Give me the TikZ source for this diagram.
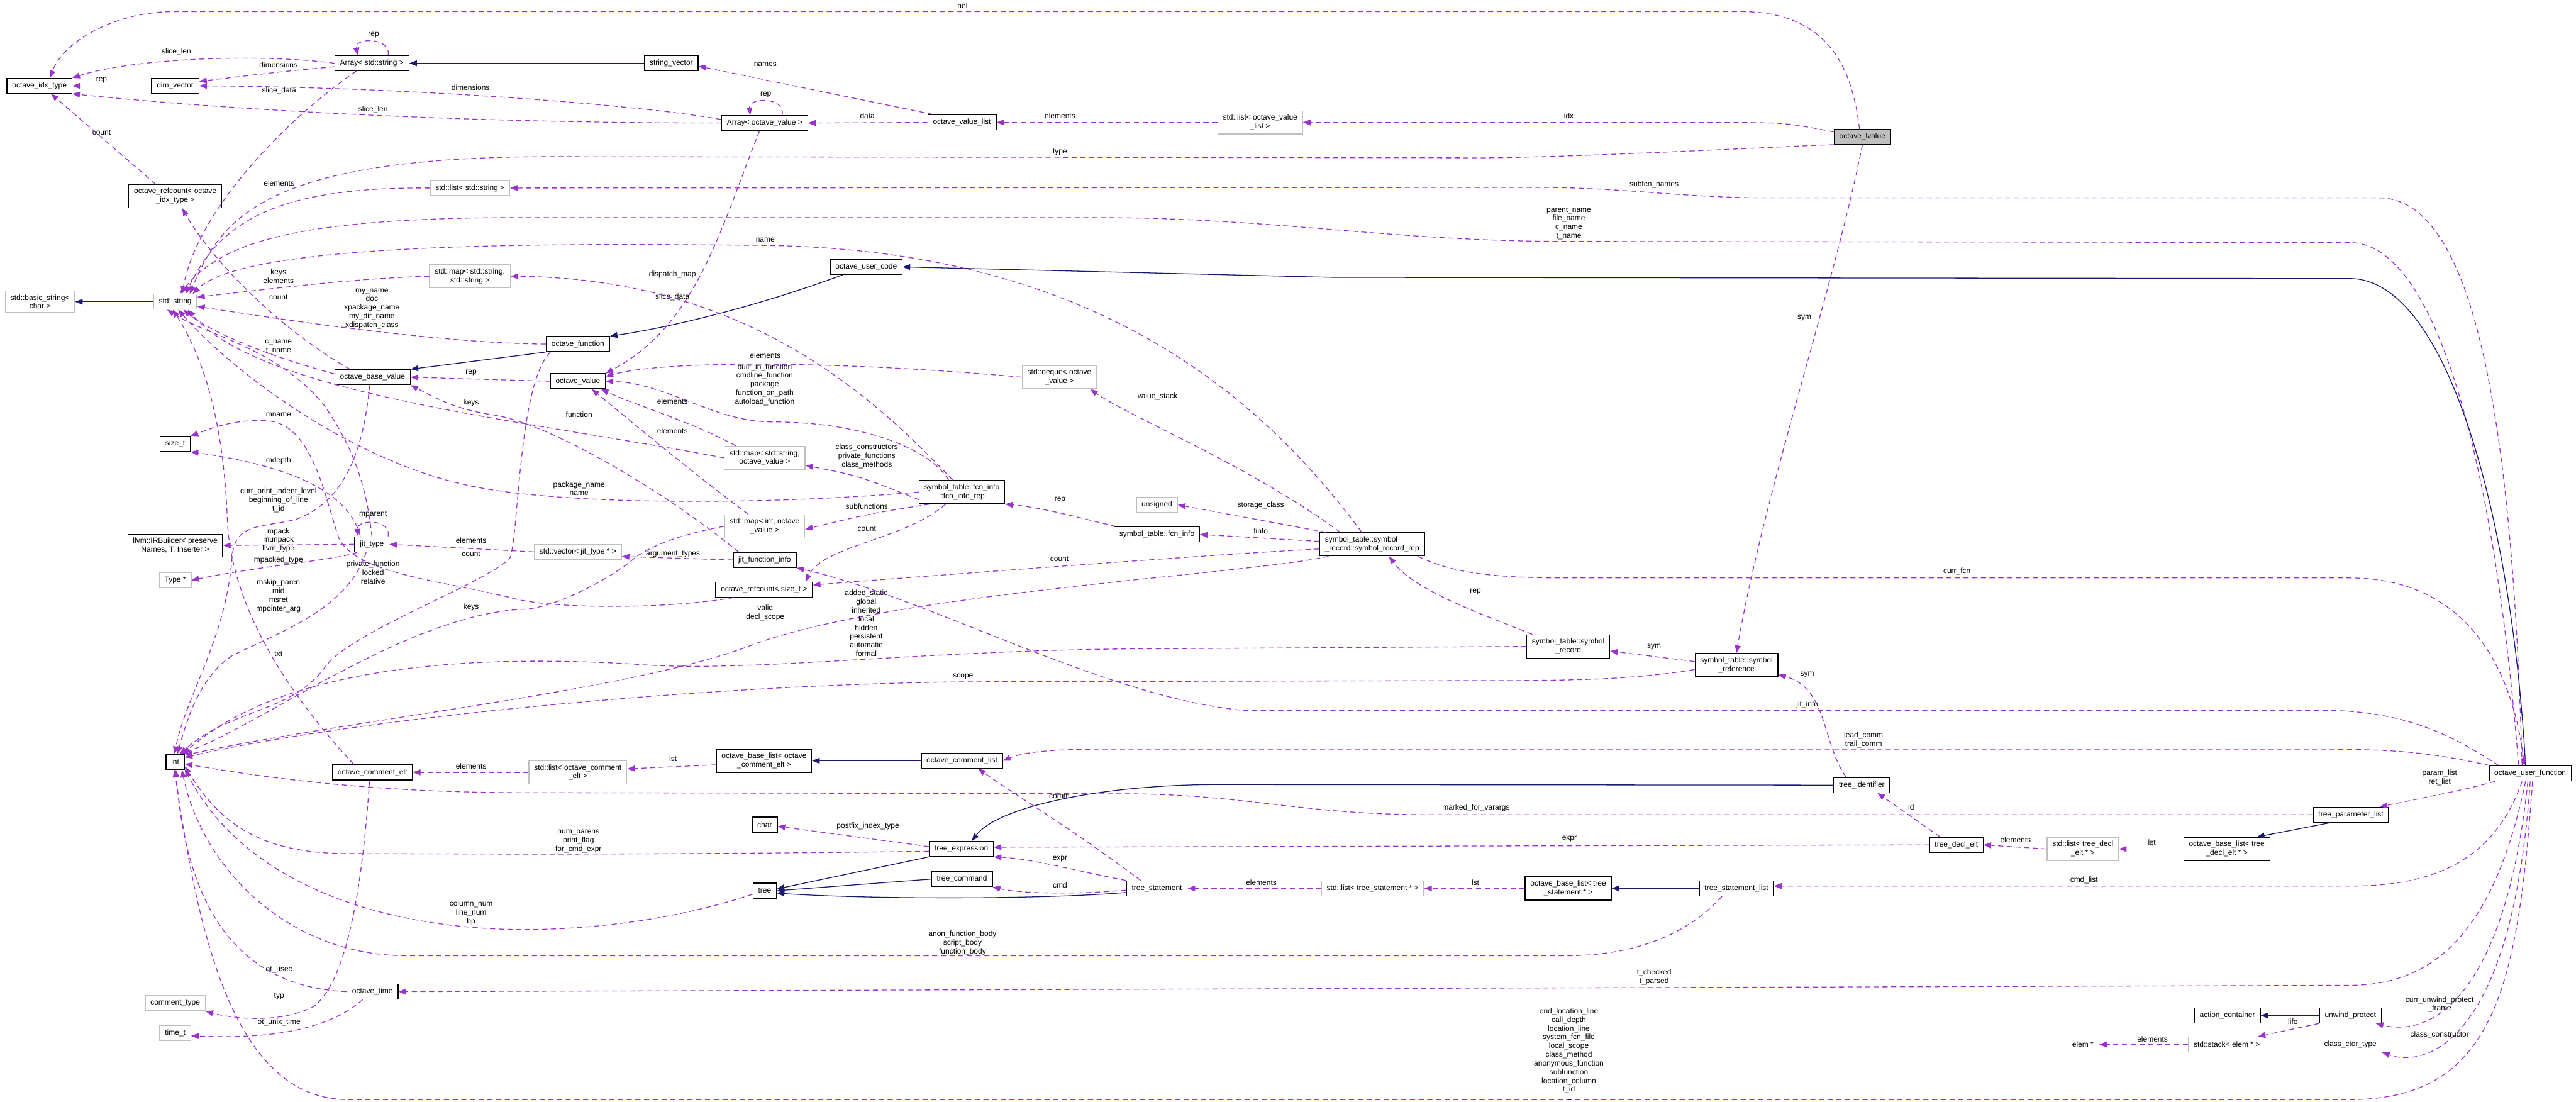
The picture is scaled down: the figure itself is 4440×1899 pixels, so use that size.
\documentclass[tikz,border=0pt]{standalone}
\usepackage{fontspec}
\setmainfont{Liberation Sans}
\usetikzlibrary{arrows.meta}

\definecolor{usecol}{HTML}{9A32CD}
\definecolor{inhcol}{HTML}{191970}
\definecolor{extcol}{HTML}{BFBFBF}

\begin{document}
\begin{tikzpicture}[
  x=1pt, y=-1pt,
  font=\fontsize{13}{15}\selectfont,
  cls/.style={rectangle, draw=black, line width=1.4pt, fill=white,
              align=center, inner xsep=9pt, inner ysep=6.5pt, minimum height=26pt},
  ext/.style={cls, draw=extcol},
  root/.style={cls, fill=extcol},
  mem/.style={draw=usecol, line width=1.4pt, dash pattern=on 9pt off 6pt,
              -{Triangle[length=13pt,width=10pt]}},
  inh/.style={draw=inhcol, line width=1.4pt, -{Triangle[length=13pt,width=10pt]}},
  lbl/.style={align=center, inner sep=0pt},
]
\useasboundingbox (0,0) rectangle (4440,1899);
% --- classes ---
\node[cls]  (idx)     at (68,148)    {octave\_idx\_type};
\node[ext]  (bstr)    at (69,520)    {std::basic\_string<\\char >};
\node[cls]  (dimv)    at (302,148)   {dim\_vector};
\node[cls]  (rcidx)   at (302,338)   {octave\_refcount< octave\\\_idx\_type >};
\node[ext]  (str)     at (302,520)   {std::string};
\node[cls]  (sizet)   at (302,765)   {size\_t};
\node[cls]  (irb)     at (302,940)   {llvm::IRBuilder< preserve\\Names, T, Inserter >};
\node[ext]  (typeptr) at (302,1000)  {Type *};
\node[cls]  (intt)    at (302,1313)  {int};
\node[ext]  (ctype)   at (302,1729)  {comment\_type};
\node[ext]  (timet)   at (302,1780)  {time\_t};
\node[cls]  (arrstr)  at (641,109)   {Array< std::string >};
\node[cls]  (bval)    at (642,650)   {octave\_base\_value};
\node[cls]  (jtype)   at (641,938)   {jit\_type};
\node[cls]  (celt)    at (642,1331)  {octave\_comment\_elt};
\node[cls]  (otime)   at (642,1709)  {octave\_time};
\node[ext]  (strlist) at (810,324)   {std::list< std::string >};
\node[ext]  (strmap)  at (810,476)   {std::map< std::string,\\ std::string >};
\node[cls]  (func)    at (996,593)   {octave\_function};
\node[cls]  (oval)    at (996,657)   {octave\_value};
\node[ext]  (jvec)    at (996,951)   {std::vector< jit\_type * >};
\node[ext]  (cstdl)   at (996,1331)  {std::list< octave\_comment\\\_elt >};
\node[cls]  (strvec)  at (1157,109)  {string\_vector};
\node[cls]  (arrov)   at (1318,212)  {Array< octave\_value >};
\node[ext]  (ovmap)   at (1318,789)  {std::map< std::string,\\ octave\_value >};
\node[ext]  (intmap)  at (1318,907)  {std::map< int, octave\\\_value >};
\node[cls]  (jfi)     at (1318,965)  {jit\_function\_info};
\node[cls]  (rcsz)    at (1317,1016) {octave\_refcount< size\_t >};
\node[cls]  (cbl)     at (1317,1311) {octave\_base\_list< octave\\\_comment\_elt >};
\node[cls]  (chr)     at (1318,1421) {char};
\node[cls]  (treen)   at (1318,1535) {tree};
\node[cls]  (ucode)   at (1493,460)  {octave\_user\_code};
\node[cls]  (ovlist)  at (1658,211)  {octave\_value\_list};
\node[cls]  (fir)     at (1658,848)  {symbol\_table::fcn\_info\\::fcn\_info\_rep};
\node[cls]  (clist)   at (1658,1311) {octave\_comment\_list};
\node[cls]  (texpr)   at (1657,1463) {tree\_expression};
\node[cls]  (tcmd)    at (1658,1515) {tree\_command};
\node[ext]  (deque)   at (1826,650)  {std::deque< octave\\\_value >};
\node[ext]  (unsig)   at (1994,870)  {unsigned};
\node[cls]  (fi)      at (1994,921)  {symbol\_table::fcn\_info};
\node[cls]  (tstmt)   at (1994,1531) {tree\_statement};
\node[ext]  (ovllist) at (2172,211)  {std::list< octave\_value\\\_list >};
\node[cls, align=left] (srr) at (2365,938) {symbol\_table::symbol\\\_record::symbol\_record\_rep};
\node[ext]  (stlist)  at (2366,1531) {std::list< tree\_statement * >};
\node[cls]  (srec)    at (2703,1114) {symbol\_table::symbol\\\_record};
\node[cls]  (sbl)     at (2703,1531) {octave\_base\_list< tree\\\_statement * >};
\node[cls]  (sref)    at (2993,1146) {symbol\_table::symbol\\\_reference};
\node[cls]  (tsl)     at (2993,1531) {tree\_statement\_list};
\node[root] (lval)    at (3210,236)  {octave\_lvalue};
\node[cls]  (tid)     at (3209,1353) {tree\_identifier};
\node[cls]  (tde)     at (3372,1456) {tree\_decl\_elt};
\node[ext]  (tdlist)  at (3590,1463) {std::list< tree\_decl\\\_elt * >};
\node[ext]  (elemp)   at (3590,1800) {elem *};
\node[cls]  (dbl)     at (3838,1463) {octave\_base\_list< tree\\\_decl\_elt * >};
\node[cls]  (ac)      at (3839,1750) {action\_container};
\node[ext]  (stk)     at (3838,1800) {std::stack< elem * >};
\node[cls]  (tpl)     at (4052,1404) {tree\_parameter\_list};
\node[cls]  (uwp)     at (4051,1750) {unwind\_protect};
\node[ext]  (cct)     at (4051,1800) {class\_ctor\_type};
\node[cls]  (ouf)     at (4361,1333) {octave\_user\_function};
% --- Array / index types ---
\draw[mem] (arrstr.west) .. controls (450,92) and (230,100) .. (idx.north east)
  node[lbl, at={(304,89)}] {slice\_len};
\draw[mem] ([yshift=-6pt]arrstr.west) .. controls (480,124) .. ([yshift=-6pt]dimv.north east)
  node[lbl, at={(480,112)}] {dimensions};
\draw[mem] ([xshift=28pt]arrstr.north) .. controls (675,64) and (610,64) .. ([xshift=-24pt]arrstr.north)
  node[lbl, at={(644,60)}] {rep};
\draw[mem] ([xshift=-27pt]arrstr.south) .. controls (500,200) and (340,360) .. ([xshift=12pt]str.north)
  node[lbl, at={(481,156)}] {slice\_data};
\draw[mem] (dimv.west) -- (idx.east) node[lbl, at={(175,138)}] {rep};
\draw[mem] ([yshift=6pt]arrov.west) .. controls (1100,180) and (700,150) .. (dimv.east)
  node[lbl, at={(811,151)}] {dimensions};
\draw[mem] (arrov.west) .. controls (800,212) and (400,190) .. (idx.south east)
  node[lbl, at={(643,189)}] {slice\_len};
\draw[mem] ([xshift=-34pt]rcidx.north) -- ([xshift=20pt]idx.south)
  node[lbl, at={(175,228)}] {count};
\draw[inh] (strvec.west) -- (arrstr.east);
\draw[mem] ([xshift=-5pt]lval.north) .. controls (3190,90) and (3130,20) .. (3000,20) -- (300,20)
  .. controls (200,20) and (110,70) .. ([xshift=18pt]idx.north)
  node[lbl, at={(1659,10)}] {nel};
\draw[mem] ([xshift=30pt]arrov.north) .. controls (1355,167) and (1290,167) .. ([xshift=-25pt]arrov.north)
  node[lbl, at={(1320,163)}] {rep};
\draw[mem] ([xshift=-9pt]arrov.south) .. controls (1240,400) and (1200,560) .. (oval.north east)
  node[lbl, at={(1159,512)}] {slice\_data};
\draw[mem] (ovlist.west) -- (arrov.east) node[lbl, at={(1495,200)}] {data};
\draw[mem] ([xshift=10pt]ovlist.north west) -- ([yshift=-5pt]strvec.east)
  node[lbl, at={(1319,111)}] {names};
\draw[mem] (ovllist.west) -- (ovlist.east) node[lbl, at={(1827,200)}] {elements};
\draw[mem] (lval.170) .. controls (3080,212) .. (3000,211) -- (ovllist.east)
  node[lbl, at={(2704,200)}] {idx};
% --- std::string and friends ---
\draw[mem] (lval.195) .. controls (3080,252) and (2700,272) .. (2550,272) -- (950,270)
  .. controls (450,270) and (380,380) .. ([xshift=25pt]str.north)
  node[lbl, at={(1827,262)}] {type};
\draw[mem] (strlist.west) .. controls (480,322) and (380,380) .. ([xshift=18pt]str.north)
  node[lbl, at={(481,316)}] {elements};
\draw[mem] ([xshift=-14pt]ouf.north) .. controls (4330,700) and (4260,341) .. (4100,341) -- (3050,341)
  .. controls (2900,341) and (2800,323) .. (2650,323) -- (strlist.east)
  node[lbl, at={(2851,318)}] {subfcn\_names};
\draw[mem] ([xshift=-20pt]ouf.north) .. controls (4300,800) and (4200,418) .. (4050,418) -- (2700,416)
  .. controls (2400,416) and (2200,376) .. (1900,375) -- (900,375)
  .. controls (500,375) and (380,420) .. ([xshift=8pt]str.north)
  node[lbl, at={(2704,385)}] {parent\_name\\file\_name\\c\_name\\t\_name};
\draw[inh] ([xshift=-8pt]ouf.north) .. controls (4330,900) and (4220,480) .. (4050,480) -- (2300,478)
  -- (ucode.east);
\draw[inh] ([xshift=22pt]ucode.south west) .. controls (1300,530) and (1150,565) .. (func.north east);
\draw[inh] (func.south west) -- (bval.north east);
\draw[mem] (lval.south) .. controls (3160,500) and (3040,850) .. (sref.north)
  node[lbl, at={(3110,548)}] {sym};
\draw[inh] (str.west) -- (bstr.east);
\draw[mem] (func.west) .. controls (750,592) and (450,545) .. ([yshift=-8pt]str.east)
  node[lbl, at={(641,532)}] {my\_name\\doc\\xpackage\_name\\my\_dir\_name\\xdispatch\_class};
\draw[mem] (strmap.west) .. controls (600,480) and (450,500) .. ([yshift=8pt]str.east)
  node[lbl, at={(480,476)}] {keys\\elements};
\draw[mem] (bval.175) .. controls (450,610) and (360,570) .. ([xshift=14pt]str.south)
  node[lbl, at={(480,598)}] {c\_name\\t\_name};
\draw[mem] ([xshift=-39pt]bval.north) .. controls (470,560) and (360,440) .. ([xshift=12pt]rcidx.south)
  node[lbl, at={(480,512)}] {count};
\draw[mem] (oval.west) -- (bval.east) node[lbl, at={(812,642)}] {rep};
\draw[mem] (ovmap.west) .. controls (900,723) and (450,680) .. ([xshift=22pt]str.south)
  node[lbl, at={(812,694)}] {keys};
% --- octave_value users ---
\draw[mem] (deque.west) .. controls (1450,622) and (1150,620) .. (oval.10)
  node[lbl, at={(1319,613)}] {elements};
\draw[mem] ([xshift=-23pt]fir.north) .. controls (1600,770) and (1480,727) .. (1330,727)
  .. controls (1230,727) and (1150,660) .. (oval.east)
  node[lbl, at={(1318,663)}] {built\_in\_function\\cmdline\_function\\package\\function\_on\_path\\autoload\_function};
\draw[mem] ([xshift=-50pt]ovmap.north) .. controls (1200,730) and (1100,700) .. ([xshift=-8pt]oval.south east)
  node[lbl, at={(1159,692)}] {elements};
\draw[mem] ([xshift=-28pt]intmap.north) .. controls (1200,820) and (1080,720) .. ([xshift=24pt]oval.south)
  node[lbl, at={(1159,743)}] {elements};
\draw[mem] ([yshift=-13pt]fir.west) .. controls (1480,820) .. ([yshift=-13pt]ovmap.east)
  node[lbl, at={(1494,786)}] {class\_constructors\\private\_functions\\class\_methods};
\draw[mem] (fir.west) .. controls (1300,872) and (950,870) .. (800,835)
  .. controls (600,790) and (400,640) .. ([xshift=5pt]str.south)
  node[lbl, at={(998,842)}] {package\_name\\name};
\draw[mem] ([xshift=19pt]fir.south west) .. controls (1500,885) .. ([yshift=-5pt]intmap.east)
  node[lbl, at={(1494,873)}] {subfunctions};
\draw[mem] ([xshift=-28pt]fir.south) .. controls (1560,930) and (1420,940) .. ([xshift=-13pt]rcsz.north east)
  node[lbl, at={(1494,911)}] {count};
\draw[mem] ([xshift=-16pt]fir.north) .. controls (1520,700) and (1300,480) .. (strmap.east)
  node[lbl, at={(1159,473)}] {dispatch\_map};
\draw[mem] ([xshift=-70pt]fi.north) .. controls (1870,895) and (1800,875) .. (fir.south east)
  node[lbl, at={(1827,861)}] {rep};
% --- symbol table ---
\draw[mem] ([xshift=-80pt]srr.north) -- (unsig.east) node[lbl, at={(2173,871)}] {storage\_class};
\draw[mem] ([yshift=5pt]srr.west) -- (fi.east) node[lbl, at={(2173,915)}] {finfo};
\draw[mem] ([xshift=-55pt]srr.north) .. controls (2150,800) and (1950,720) .. ([xshift=53pt]deque.south)
  node[lbl, at={(1995,683)}] {value\_stack};
\draw[mem] ([xshift=-18pt]srr.north) .. controls (2150,650) and (1850,430) .. (1319,423)
  .. controls (900,418) and (420,420) .. ([xshift=30pt]str.north)
  node[lbl, at={(1319,413)}] {name};
\draw[mem] ([yshift=-8pt]srr.west) .. controls (2100,955) and (1700,985) .. ([yshift=8pt]rcsz.east)
  node[lbl, at={(1826,963)}] {count};
\draw[mem] ([xshift=-75pt]srr.south) .. controls (2150,990) and (1550,1020) .. (1300,1110)
  .. controls (1100,1190) and (600,1240) .. (intt.35)
  node[lbl, at={(1319,1056)}] {valid\\decl\_scope};
\draw[mem] ([xshift=79pt]srr.south) .. controls (2500,985) and (2560,996) .. (2700,996) -- (4050,996)
  .. controls (4250,996) and (4330,1150) .. ([xshift=-10pt]ouf.north)
  node[lbl, at={(3373,985)}] {curr\_fcn};
\draw[mem] ([xshift=-62pt]srec.north) .. controls (2560,1060) and (2440,1020) .. ([xshift=29pt]srr.south)
  node[lbl, at={(2543,1019)}] {rep};
\draw[mem] (srec.west) -- (2000,1118) .. controls (1600,1118) and (1300,1160) .. (1100,1145)
  .. controls (700,1120) and (450,1180) .. (intt.45)
  node[lbl, at={(1493,1074)}] {added\_static\\global\\inherited\\local\\hidden\\persistent\\automatic\\formal};
\draw[mem] ([yshift=6pt]sref.west) -- ([yshift=-8pt]srec.east) node[lbl, at={(2851,1115)}] {sym};
\draw[mem] ([yshift=-8pt]sref.west) .. controls (2800,1173) and (2700,1173) .. (2500,1173) -- (1660,1175)
  .. controls (1200,1180) and (600,1240) .. (intt.25)
  node[lbl, at={(1660,1166)}] {scope};
\draw[mem] ([xshift=-27pt]tid.north) .. controls (3140,1280) and (3150,1185) .. ([yshift=4pt]sref.south east)
  node[lbl, at={(3115,1163)}] {sym};
% --- octave_user_function members ---
\draw[mem] ([xshift=-54pt]ouf.north) .. controls (4230,1270) and (4150,1224) .. (4000,1224) -- (2140,1224)
  .. controls (1900,1200) and (1600,1030) .. (jfi.south east)
  node[lbl, at={(3115,1214)}] {jit\_info};
\draw[mem] ([xshift=-69pt]ouf.north) .. controls (4200,1300) and (4150,1291) .. (4000,1291) -- (1900,1291)
  .. controls (1800,1291) and (1760,1298) .. (clist.east)
  node[lbl, at={(3212,1275)}] {lead\_comm\\trail\_comm};
\draw[mem] (tpl.west) -- (2460,1404) .. controls (2250,1404) and (2150,1370) .. (1950,1368) -- (900,1366)
  .. controls (600,1366) and (400,1330) .. (intt.-12)
  node[lbl, at={(2544,1392)}] {marked\_for\_varargs};
\draw[mem] (tde.west) -- ([yshift=3pt]texpr.east) node[lbl, at={(2705,1446)}] {expr};
\draw[mem] ([xshift=-28pt]tde.north) -- ([xshift=27pt]tid.south) node[lbl, at={(3294,1391)}] {id};
\draw[mem] (tdlist.west) -- (tde.east) node[lbl, at={(3474,1447)}] {elements};
\draw[mem] (dbl.west) -- (tdlist.east) node[lbl, at={(3709,1452)}] {lst};
\draw[inh] ([xshift=-35pt]tpl.south) -- ([xshift=52pt]dbl.north);
\draw[mem] ([xshift=-61pt]ouf.south) .. controls (4250,1360) .. ([xshift=50pt]tpl.north)
  node[lbl, at={(4205,1340)}] {param\_list\\ret\_list};
\draw[mem] ([xshift=-14pt]ouf.south) .. controls (4300,1480) and (4200,1527) .. (4050,1527) -- ([yshift=4pt]tsl.east)
  node[lbl, at={(3592,1517)}] {cmd\_list};
\draw[inh] (tsl.west) -- (sbl.east);
\draw[mem] (sbl.west) -- (stlist.east) node[lbl, at={(2543,1521)}] {lst};
\draw[mem] (stlist.west) -- (tstmt.east) node[lbl, at={(2174,1521)}] {elements};
\draw[mem] ([xshift=-25pt]tsl.south) .. controls (2900,1620) and (2800,1647) .. (2700,1647) -- (700,1647)
  .. controls (500,1647) and (350,1500) .. (intt.-50)
  node[lbl, at={(1659,1625)}] {anon\_function\_body\\script\_body\\function\_body};
% --- parse tree ---
\draw[mem] ([xshift=-28pt]tstmt.north) .. controls (1850,1430) and (1750,1370) .. ([xshift=28pt]clist.south)
  node[lbl, at={(1826,1373)}] {comm};
\draw[mem] (tstmt.north west) .. controls (1850,1500) and (1780,1480) .. (texpr.south east)
  node[lbl, at={(1827,1480)}] {expr};
\draw[mem] ([yshift=-3pt]tstmt.west) .. controls (1850,1542) and (1760,1540) .. (tcmd.south east)
  node[lbl, at={(1827,1525)}] {cmd};
\draw[inh] (texpr.south west) -- ([yshift=3pt]treen.east);
\draw[inh] (tcmd.west) -- (treen.east);
\draw[inh] ([yshift=-7pt]tstmt.west) .. controls (1800,1550) and (1500,1550) .. ([yshift=-4pt]treen.east);
\draw[inh] (tid.west) -- (2100,1352) .. controls (1900,1352) and (1720,1390) .. ([xshift=18pt]texpr.north);
\draw[mem] ([yshift=4pt]texpr.west) -- ([yshift=-3pt]chr.east)
  node[lbl, at={(1496,1424)}] {postfix\_index\_type};
\draw[mem] ([yshift=-4pt]texpr.west) .. controls (1400,1470) and (1100,1472) .. (900,1472) -- (600,1471)
  .. controls (450,1471) and (380,1420) .. (intt.-25)
  node[lbl, at={(997,1450)}] {num\_parens\\print\_flag\\for\_cmd\_expr};
\draw[mem] ([yshift=-6pt]treen.west) .. controls (1150,1590) and (1000,1602) .. (900,1602)
  .. controls (650,1600) and (420,1520) .. (intt.-38)
  node[lbl, at={(812,1573)}] {column\_num\\line\_num\\bp};
\draw[mem] ([xshift=-8pt]ouf.south) .. controls (4300,1600) and (4200,1698) .. (4050,1698) -- (otime.east)
  node[lbl, at={(2851,1684)}] {t\_checked\\t\_parsed};
\draw[mem] (otime.west) .. controls (400,1700) and (320,1550) .. (intt.-85)
  node[lbl, at={(481,1671)}] {ot\_usec};
\draw[mem] ([xshift=-17pt]otime.south) .. controls (560,1780) and (450,1790) .. ([yshift=-5pt]timet.east)
  node[lbl, at={(481,1762)}] {ot\_unix\_time};
\draw[mem] ([xshift=-5pt]celt.south) .. controls (625,1520) and (600,1690) .. (540,1735)
  .. controls (480,1765) and (400,1755) .. (ctype.south east)
  node[lbl, at={(481,1717)}] {typ};
\draw[mem] ([xshift=-32pt]celt.north) .. controls (500,1200) and (400,1050) .. (392,900)
  .. controls (385,700) and (340,600) .. ([xshift=-4pt]str.south)
  node[lbl, at={(480,1127)}] {txt};
\draw[mem] (cstdl.west) -- (celt.east) node[lbl, at={(812,1320)}] {elements};
\draw[mem] ([yshift=-7pt]cbl.west) -- ([yshift=6pt]cstdl.east) node[lbl, at={(1160,1307)}] {lst};
\draw[inh] (clist.west) -- (cbl.east);
\draw[mem] ([xshift=4pt]ouf.south) .. controls (4340,1700) and (4300,1895) .. (4050,1895) -- (600,1895)
  .. controls (400,1895) and (340,1600) .. (intt.-95)
  node[lbl, at={(2704,1817)}] {end\_location\_line\\call\_depth\\location\_line\\system\_fcn\_file\\local\_scope\\class\_method\\anonymous\_function\\subfunction\\location\_column\\t\_id\\...};
\draw[mem] ([xshift=-4pt]ouf.south) .. controls (4320,1700) and (4200,1790) .. ([xshift=-10pt]uwp.south east)
  node[lbl, at={(4205,1731)}] {curr\_unwind\_protect\\\_frame};
\draw[mem] (ouf.south) .. controls (4330,1800) and (4180,1840) .. (cct.south east)
  node[lbl, at={(4205,1784)}] {class\_constructor};
\draw[inh] (uwp.west) -- (ac.east);
\draw[mem] (uwp.south west) -- ([xshift=-13pt]stk.north east) node[lbl, at={(3952,1761)}] {lifo};
\draw[mem] (stk.west) -- (elemp.east) node[lbl, at={(3710,1791)}] {elements};
% --- jit types ---
\draw[mem] ([xshift=28pt]jtype.north) .. controls (675,894) and (615,894) .. ([xshift=-24pt]jtype.north)
  node[lbl, at={(643,887)}] {mparent};
\draw[mem] (jtype.west) -- (irb.east) node[lbl, at={(480,931)}] {mpack\\munpack\\llvm\_type};
\draw[mem] ([xshift=-25pt]jtype.south) .. controls (580,965) and (450,975) .. (typeptr.east)
  node[lbl, at={(480,965)}] {mpacked\_type};
\draw[mem] ([xshift=-10pt]jtype.south) .. controls (600,1050) and (480,1090) .. (400,1130)
  .. controls (340,1170) and (320,1250) .. (intt.75)
  node[lbl, at={(480,1027)}] {mskip\_paren\\mid\\msret\\mpointer\_arg};
\draw[mem] ([xshift=-20pt]jtype.north) .. controls (600,840) and (480,800) .. (sizet.south east)
  node[lbl, at={(480,794)}] {mdepth};
\draw[mem] (jtype.north) .. controls (630,820) and (600,760) .. (560,700)
  .. controls (480,600) and (360,580) .. ([xshift=-14pt]str.south)
  node[lbl, at={(480,715)}] {mname};
\draw[mem] (jvec.west) -- (jtype.east) node[lbl, at={(812,931)}] {elements};
\draw[mem] (jfi.west) -- ([yshift=-8pt]jvec.east) node[lbl, at={(1160,955)}] {argument\_types};
\draw[mem] ([xshift=8pt]func.south west) .. controls (895,660) and (895,900) .. (880,960)
  .. controls (850,1000) and (600,1090) .. (560,1150)
  .. controls (500,1230) and (400,1220) .. (intt.60)
  node[lbl, at={(643,987)}] {private\_function\\locked\\relative};
\draw[mem] ([xshift=-5pt]bval.south) .. controls (625,800) and (580,870) .. (510,895)
  .. controls (450,910) and (405,900) .. (400,960)
  .. controls (390,1100) and (320,1200) .. (intt.95)
  node[lbl, at={(480,862)}] {curr\_print\_indent\_level\\beginning\_of\_line\\t\_id};
\draw[mem] ([xshift=-45pt]jfi.north) .. controls (1150,850) and (950,730) .. (850,715)
  .. controls (780,705) and (740,680) .. (bval.south east)
  node[lbl, at={(998,715)}] {function};
\draw[mem] (intmap.west) .. controls (1150,925) and (1110,950) .. (1096,960)
  .. controls (1050,1000) and (950,1050) .. (900,1050)
  .. controls (700,1060) and (450,1250) .. (intt.55)
  node[lbl, at={(812,1046)}] {keys};
\draw[mem] ([xshift=-52pt]rcsz.south) .. controls (1150,1050) and (950,1050) .. (880,1030)
  .. controls (760,1000) and (620,990) .. (585,930)
  .. controls (560,860) and (540,730) .. (460,725)
  .. controls (400,722) and (360,740) .. (sizet.north east)
  node[lbl, at={(812,955)}] {count};
\end{tikzpicture}
\end{document}
